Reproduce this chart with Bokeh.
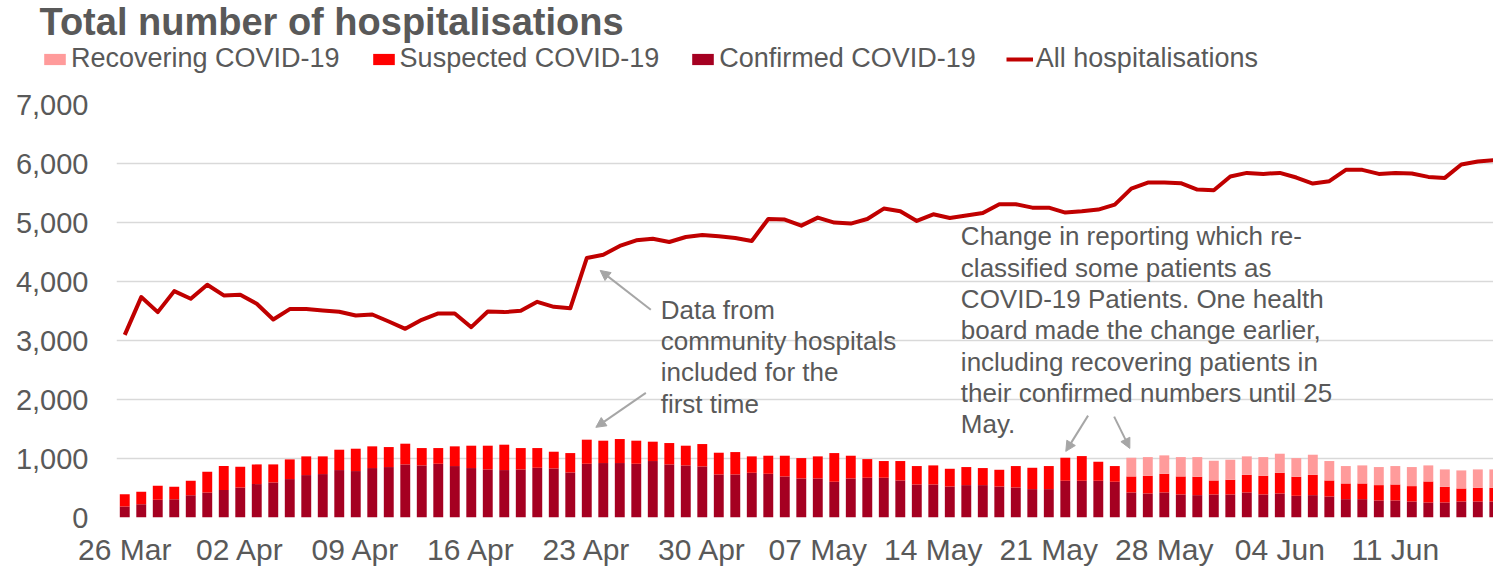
import pandas as pd
from bokeh.plotting import figure
from bokeh.models import (ColumnDataSource, FixedTicker, NumeralTickFormatter, Legend,
                          LegendItem, Arrow, NormalHead, Range1d, Label)
from bokeh.core.properties import value
from bokeh.embed import file_html
from bokeh.resources import INLINE

# ---------------- data ----------------
dates = pd.date_range("2020-03-26", "2020-06-17", freq="D")

confirmed = [187, 226, 300, 311, 379, 424, 464, 509, 566, 594, 651, 719, 736, 804, 787, 838,
             855, 900, 883, 911, 872, 838, 815, 804, 815, 843, 832, 764, 911, 923, 923, 911,
             957, 900, 883, 866, 730, 730, 758, 741, 696, 662, 662, 606, 662, 674, 674, 628,
             560, 560, 526, 549, 549, 526, 509, 481, 481, 623, 623, 623, 606, 425, 408, 425,
             391, 379, 391, 391, 425, 391, 408, 368, 379, 357, 311, 311, 289, 289, 272, 255,
             255, 272, 272, 272]

suspected = [209, 210, 238, 210, 244, 351, 408, 351, 334, 306, 334, 317, 300, 345, 379, 368,
             339, 351, 294, 266, 334, 379, 402, 430, 362, 334, 283, 328, 408, 379, 407, 391,
             328, 362, 334, 379, 368, 379, 278, 306, 351, 345, 374, 486, 385, 316, 283, 329,
             312, 323, 300, 306, 289, 283, 363, 362, 391, 390, 418, 322, 266, 271, 299, 316,
             305, 312, 237, 249, 299, 316, 350, 323, 345, 271, 266, 266, 260, 271, 260, 356,
             266, 220, 232, 232]

recovering = [0] * 61 + [317, 317, 312, 328, 333, 334, 339, 312, 317, 323, 316, 340, 329, 295,
                         306, 306, 312, 323, 272, 294, 306, 311, 311]

all_hospitalisations = [3096, 3736, 3481, 3837, 3707, 3945, 3764, 3775, 3622, 3356, 3532, 3532,
                        3509, 3487, 3424, 3441, 3322, 3198, 3351, 3458, 3458, 3226, 3492, 3481,
                        3504, 3656, 3571, 3546, 4398, 4454, 4602, 4698, 4726, 4670, 4754, 4788,
                        4766, 4737, 4686, 5060, 5049, 4947, 5083, 4998, 4981, 5060, 5236, 5190,
                        5026, 5139, 5077, 5117, 5162, 5309, 5309, 5252, 5252, 5168, 5190, 5219,
                        5303, 5575, 5677, 5677, 5666, 5558, 5547, 5779, 5841, 5824, 5841, 5762,
                        5660, 5700, 5892, 5892, 5824, 5841, 5830, 5773, 5756, 5983, 6034, 6056]

series_names = ["Recovering COVID-19", "Suspected COVID-19", "Confirmed COVID-19", "All hospitalisations"]
title_text = "Total number of hospitalisations"

tick_days = list(range(0, len(dates), 7))[:12]
tick_labels = [dates[i].strftime("%d %b") for i in tick_days]

note1 = ["Data from", "community hospitals", "included for the", "first time"]
note2 = ["Change in reporting which re-", "classified some patients as",
         "COVID-19 Patients. One health", "board made the change earlier,",
         "including recovering patients in", "their confirmed numbers until 25", "May."]

# ---------------- styles ----------------
C_CONF = "#A50021"
C_SUSP = "#FF0000"
C_RECO = "#FF9B9B"
C_LINE = "#C00000"
C_TEXT = "#595959"
C_GRID = "#D9D9D9"
C_ARROW = "#A6A6A6"
FONT = "Liberation Sans"
W = 1493
HEAD_H = 84
TOP_PAD = 20

# ---------------- header: title + legend ----------------
head = figure(width=W, height=HEAD_H, output_backend="svg", toolbar_location=None,
              x_range=Range1d(0, W), y_range=Range1d(0, HEAD_H),
              min_border=0, min_border_left=0, min_border_right=0,
              min_border_top=0, min_border_bottom=0, x_axis_type=None, y_axis_type=None)
head.outline_line_color = None
head.grid.visible = False
head.add_layout(Label(x=39, y=HEAD_H - 21, text=title_text, text_font=FONT,
                      text_font_size="38px", text_font_style="bold", text_color=C_TEXT,
                      text_baseline="alphabetic"))
nan = float("nan")
proxy = ColumnDataSource(dict(x=[nan], top=[nan]))
r_reco = head.vbar(x="x", top="top", width=1, color=C_RECO, line_color=None, source=proxy)
r_susp = head.vbar(x="x", top="top", width=1, color=C_SUSP, line_color=None, source=proxy)
r_conf = head.vbar(x="x", top="top", width=1, color=C_CONF, line_color=None, source=proxy)
r_line = head.line(x="x", y="top", line_color=C_LINE, line_width=4, source=proxy)
legend = Legend(items=[LegendItem(label=series_names[0], renderers=[r_reco]),
                       LegendItem(label=series_names[1], renderers=[r_susp]),
                       LegendItem(label=series_names[2], renderers=[r_conf]),
                       LegendItem(label=series_names[3], renderers=[r_line])],
                location=(41, 10), orientation="horizontal", padding=0, margin=0,
                spacing=30, glyph_width=27, glyph_height=14, label_standoff=3,
                label_text_font=FONT, label_text_font_size="27px", label_text_color=C_TEXT,
                border_line_color=None, background_fill_alpha=0)
head.add_layout(legend, "center")

# ---------------- main chart ----------------
idx = list(range(len(dates)))
src = ColumnDataSource(dict(x=idx, confirmed=confirmed, suspected=suspected,
                            recovering=recovering, total=all_hospitalisations))

p = figure(width=W, height=571 - HEAD_H, output_backend="svg", toolbar_location=None,
           x_range=Range1d(-0.5, 82.95), y_range=Range1d(0, 7000),
           min_border_left=116, min_border_right=0, min_border_top=TOP_PAD, min_border_bottom=54)
p.outline_line_color = None
p.background_fill_color = "white"
p.border_fill_color = "white"

bars = p.vbar_stack(["confirmed", "suspected", "recovering"], x="x", width=0.6,
                    color=[C_CONF, C_SUSP, C_RECO], line_color=None, source=src)
line = p.line("x", "total", source=src, line_color=C_LINE, line_width=4, line_join="round")

p.xaxis.ticker = FixedTicker(ticks=tick_days)
p.xaxis.major_label_overrides = {d: lab for d, lab in zip(tick_days, tick_labels)}
p.yaxis.ticker = FixedTicker(ticks=list(range(0, 7001, 1000)))
p.yaxis.formatter = NumeralTickFormatter(format="0,0")
for ax in (p.xaxis[0], p.yaxis[0]):
    ax.axis_line_color = None
    ax.major_tick_line_color = None
    ax.minor_tick_line_color = None
    ax.major_tick_out = 0
    ax.major_tick_in = 0
    ax.minor_tick_out = 0
    ax.minor_tick_in = 0
    ax.major_label_text_color = C_TEXT
    ax.major_label_text_font = FONT
p.xaxis.major_label_text_font_size = "30px"
p.yaxis.major_label_text_font_size = "29px"
p.xaxis.major_label_standoff = 15
p.yaxis.major_label_standoff = 28
p.xgrid.grid_line_color = None
p.ygrid.grid_line_color = C_GRID
p.ygrid.grid_line_width = 1.3

# annotation texts
n1_x, n1_y0 = 32.48, 3521
n2_x, n2_y0 = 50.67, 4766
pitch = 531
p.text(x=[n1_x] * len(note1), y=[n1_y0 - i * pitch for i in range(len(note1))], text=note1,
       text_font=value(FONT), text_font_size="26px", text_color=C_TEXT,
       text_baseline="alphabetic", text_align="left")
p.text(x=[n2_x] * len(note2), y=[n2_y0 - i * pitch for i in range(len(note2))], text=note2,
       text_font=value(FONT), text_font_size="26px", text_color=C_TEXT,
       text_baseline="alphabetic", text_align="left")

# arrows
arrows = [(31.88, 3521, 28.81, 4188), (31.58, 2112, 28.55, 1528),
          (58.38, 1727, 57.03, 1121), (59.96, 1710, 60.91, 1171)]
for xs, ys, xe, ye in arrows:
    p.add_layout(Arrow(end=NormalHead(size=10, fill_color=C_ARROW, line_color=C_ARROW),
                       x_start=xs, y_start=ys, x_end=xe, y_end=ye,
                       line_color=C_ARROW, line_width=2))

open("out.html", "w").write(file_html([head, p], INLINE))
